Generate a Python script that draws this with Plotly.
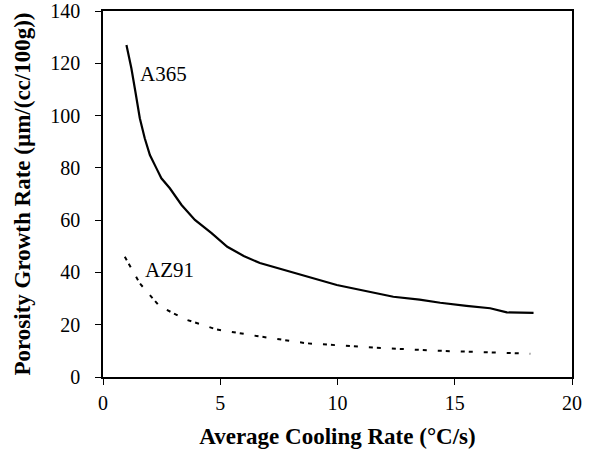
import plotly.graph_objects as go

# Porosity growth rate vs. average cooling rate for two alloys
a365_x = [1.00, 1.21, 1.38, 1.57, 1.78, 2.00, 2.28, 2.49, 2.85, 3.35, 3.92, 4.63,
          5.30, 6.00, 6.69, 7.50, 8.50, 9.97, 11.20, 12.38, 13.50, 14.38, 15.50,
          16.51, 17.22, 18.36]
a365_y = [127.0, 118.1, 109.2, 99.0, 91.3, 84.9, 79.8, 76.0, 72.2, 65.8, 60.1, 55.0,
          49.8, 46.3, 43.6, 41.5, 39.0, 35.2, 32.9, 30.7, 29.6, 28.4, 27.2,
          26.3, 24.7, 24.5]

az91_x = [0.93, 1.57, 2.42, 3.56, 4.84, 6.55, 8.68, 11.25, 14.09, 18.22]
az91_y = [46.0, 35.8, 27.0, 21.9, 18.2, 15.7, 12.9, 11.4, 10.1, 8.9]

x_ticks = [0, 5, 10, 15, 20]
y_ticks = [0, 20, 40, 60, 80, 100, 120, 140]

FONT = "Liberation Serif"

fig = go.Figure()
fig.add_trace(go.Scatter(x=a365_x, y=a365_y, mode="lines", name="A365",
                         line=dict(color="black", width=2.2)))
fig.add_trace(go.Scatter(x=az91_x, y=az91_y, mode="lines", name="AZ91",
                         line=dict(color="black", width=2, dash="4px,4px,4px,11px")))

fig.add_annotation(x=1.48, y=115.9, text="A365", showarrow=False,
                   xanchor="left", yanchor="middle",
                   font=dict(family=FONT, size=21, color="black"))
fig.add_annotation(x=1.70, y=40.9, text="AZ91", showarrow=False,
                   xanchor="left", yanchor="middle",
                   font=dict(family=FONT, size=21, color="black"))

axis_common = dict(showline=True, linecolor="black", linewidth=1.5, mirror=True,
                   ticks="outside", ticklen=6, tickwidth=1, tickcolor="black",
                   showgrid=False, zeroline=False,
                   tickfont=dict(family=FONT, size=20, color="black"))

fig.update_xaxes(range=[0, 20], tickvals=x_ticks, ticklabelstandoff=1,
                 title=dict(text="<b>Average Cooling Rate (°C/s)</b>", standoff=15,
                            font=dict(family=FONT, size=23, color="black")),
                 **axis_common)
fig.update_yaxes(range=[0, 140], tickvals=y_ticks, ticklabelstandoff=11,
                 title=dict(text="<b>Porosity Growth Rate (µm/(cc/100g))</b>", standoff=13,
                            font=dict(family=FONT, size=23, color="black")),
                 **axis_common)

fig.update_layout(width=598, height=465, showlegend=False,
                  plot_bgcolor="white", paper_bgcolor="white",
                  margin=dict(l=103, r=26, t=11, b=88, autoexpand=False),
                  font=dict(family=FONT, color="black"))

fig.write_html("out.html")
